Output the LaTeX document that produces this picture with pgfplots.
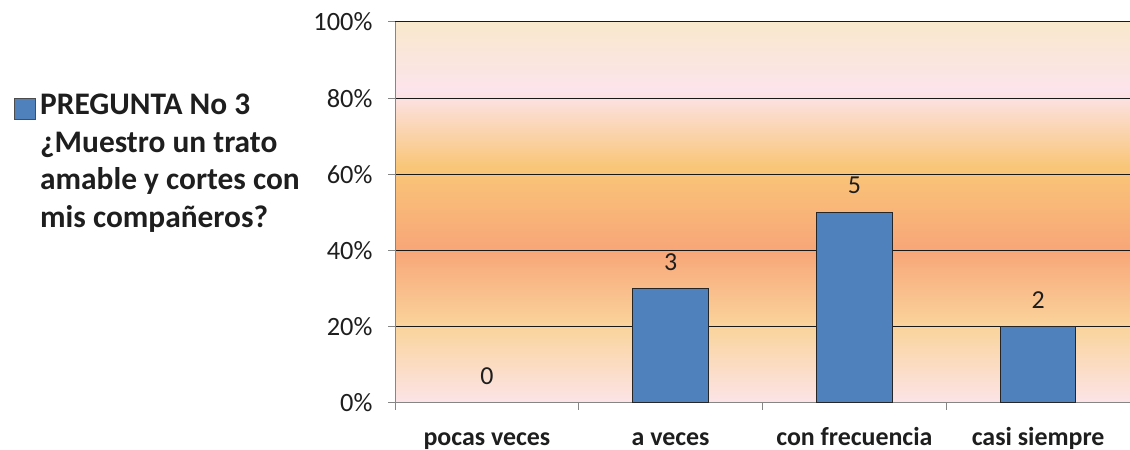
\documentclass[border=0pt]{standalone}
\usepackage{fontspec}
\setmainfont{Carlito}
\usepackage{pgfplots}
\pgfplotsset{compat=1.18}
\definecolor{barblue}{HTML}{4F81BD}
\definecolor{c0}{RGB}{252,228,232}
\definecolor{c20}{RGB}{250,212,156}
\definecolor{c40}{RGB}{248,166,120}
\definecolor{c62}{RGB}{249,198,120}
\definecolor{c82}{RGB}{252,228,236}
\definecolor{c100}{RGB}{249,232,204}
\definecolor{axgray}{RGB}{134,134,134}
\definecolor{txt}{RGB}{30,30,30}
\pgfdeclareverticalshading{plotbg}{100bp}{color(0bp)=(c0); color(25bp)=(c0); color(35bp)=(c20); color(45bp)=(c40); color(56bp)=(c62); color(66bp)=(c82); color(75bp)=(c100); color(100bp)=(c100)}
\begin{document}
\begin{tikzpicture}[x=1bp,y=1bp]
\useasboundingbox (0,0) rectangle (1130,450);
% legend
\filldraw[fill=barblue, draw=black!70, line width=0.8bp] (14,331) rectangle (35,352);
\begin{scope}[every node/.style={anchor=base west, inner sep=0pt, text=txt, font=\bfseries\fontsize{31.5}{31.5}\selectfont}]
\node at (40,335) {PREGUNTA No 3};
\node at (40,297.5) {¿Muestro un trato};
\node at (40,260) {amable y cortes con};
\node at (40,222.5) {mis compañeros?};
\end{scope}
\begin{axis}[at={(395bp,47bp)}, anchor=south west, scale only axis,
  width=735bp, height=381bp,
  axis background/.style={shading=plotbg},
  ymin=0, ymax=100, xmin=-0.5, xmax=3.5,
  axis x line*=bottom, axis y line*=left,
  axis line style={draw=axgray, line width=1bp},
  ytick={0,20,...,100},
  yticklabel={\pgfmathprintnumber{\tick}\%},
  /pgf/number format/assume math mode=true,
  ymajorgrids, major grid style={draw=black!90, line width=1bp},
  y tick label style={font=\fontsize{26.5}{26.5}\selectfont, text=txt, xshift=-12bp},
  tick align=outside, major tick length=7bp,
  tick style={draw=axgray, line width=1bp},
  xtick={-0.5,0.5,1.5,2.5,3.5},
  x tick label as interval=true,
  xticklabels={pocas veces, a veces, con frecuencia, casi siempre},
  x tick label style={font=\bfseries\fontsize{26}{26}\selectfont, text=txt, text height=0.72em, text depth=0.22em, yshift=-25bp},
  clip=false,
]
\addplot[ybar, bar width=0.41, fill=barblue, draw=black!85, line width=1bp,
  nodes near coords, point meta=explicit symbolic,
  nodes near coords style={font=\fontsize{26}{26}\selectfont, text=txt, anchor=south, inner sep=0pt, yshift=18bp}]
  table[meta=lab] {
x y lab
1 30 3
2 50 5
3 20 2
};
\addplot[ybar, bar width=0.41, draw=none, fill=none,
  nodes near coords, point meta=explicit symbolic,
  nodes near coords style={font=\fontsize{26}{26}\selectfont, text=txt, anchor=south, inner sep=0pt, yshift=18bp}]
  table[meta=lab] {
x y lab
0 0 0
};
\end{axis}
\end{tikzpicture}
\end{document}
